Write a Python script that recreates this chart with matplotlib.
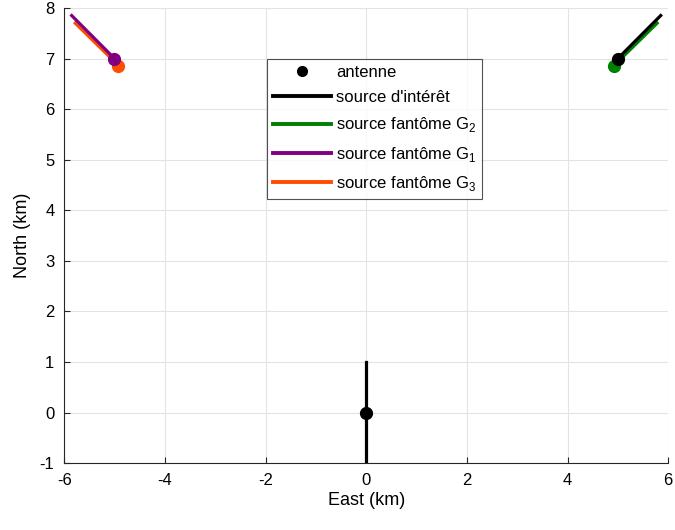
import numpy as np
import matplotlib.pyplot as plt
from matplotlib.lines import Line2D

plt.rcParams['font.family'] = ['Liberation Sans', 'DejaVu Sans']
plt.rcParams['axes.unicode_minus'] = False
plt.rcParams['mathtext.fontset'] = 'custom'
plt.rcParams['mathtext.rm'] = 'Liberation Sans'

# antenna position and its vertical extent
antenna = (0.0, 0.0)
antenna_span = [-1.0, 1.0]

# source of interest and phantom sources: marker point, end of direction line
source = [(5.0, 7.0), (5.85, 7.85)]
ghost_g2 = [(4.92, 6.86), (5.78, 7.70)]
ghost_g1 = [(-5.0, 7.0), (-5.85, 7.85)]
ghost_g3 = [(-4.92, 6.86), (-5.78, 7.70)]

col_src = 'black'
col_g2 = (0.0, 0.5, 0.0)
col_g1 = (0.5, 0.0, 0.5)
col_g3 = (1.0, 0.3, 0.0)

fig = plt.figure(figsize=(6.75, 5.3), dpi=100)
ax = fig.add_axes([0.095, 0.126, 0.895, 0.859])

lw = 2.3
ms = 8.5

# antenna
ax.plot([antenna[0], antenna[0]], antenna_span, color='black', lw=lw)
ax.plot(*antenna, 'o', color='black', ms=ms)

for pts, c in [(ghost_g2, col_g2), (source, col_src), (ghost_g3, col_g3), (ghost_g1, col_g1)]:
    xs = [p[0] for p in pts]
    ys = [p[1] for p in pts]
    ax.plot(xs, ys, color=c, lw=lw)
    ax.plot(pts[0][0], pts[0][1], 'o', color=c, ms=ms)

ax.set_xlim(-6, 6)
ax.set_ylim(-1, 8)
ax.set_xticks(np.arange(-6, 7, 2))
ax.set_yticks(np.arange(-1, 9, 1))
ax.grid(True, color='#e3e3e3', lw=0.8)
ax.set_axisbelow(True)
ax.tick_params(direction='in', labelsize=12, length=4, color='#262626', pad=7)
for s in ['top', 'right']:
    ax.spines[s].set_visible(False)
for s in ['left', 'bottom']:
    ax.spines[s].set_color('#262626')
ax.set_xlabel('East (km)', fontsize=13, labelpad=3)
ax.set_ylabel('North (km)', fontsize=13, labelpad=6)

handles = [
    Line2D([], [], ls='none', marker='o', color='black', ms=7),
    Line2D([], [], color=col_src, lw=2.8),
    Line2D([], [], color=col_g2, lw=2.8),
    Line2D([], [], color=col_g1, lw=2.8),
    Line2D([], [], color=col_g3, lw=2.8),
]
labels = [
    'antenne',
    "source d'intérêt",
    r'source fantôme G$_\mathregular{2}$',
    r'source fantôme G$_\mathregular{1}$',
    r'source fantôme G$_\mathregular{3}$',
]
leg = ax.legend(handles, labels, loc='upper left', bbox_to_anchor=(0.336, 0.888),
                fontsize=12, frameon=True, fancybox=False, handlelength=3.5,
                handletextpad=0.3, borderpad=0.35, labelspacing=0.62,
                borderaxespad=0)
leg.get_frame().set_edgecolor('#262626')
leg.get_frame().set_linewidth(0.8)

fig.savefig('out.png', dpi=100)
